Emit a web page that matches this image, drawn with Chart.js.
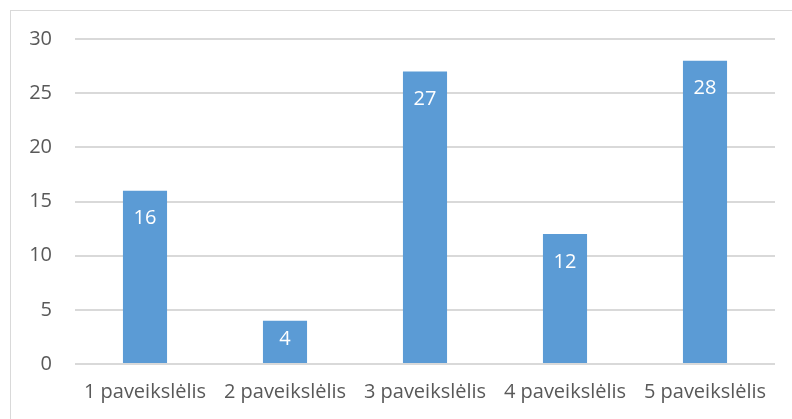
<!DOCTYPE html>
<html>
<head>
<meta charset="utf-8">
<script src="https://cdn.jsdelivr.net/npm/chart.js@4/dist/chart.umd.min.js"></script>
<style>
  html, body { margin: 0; padding: 0; background: #fff; overflow: hidden; }
  #wrap { position: relative; width: 792px; height: 419px; }
  #frame { position: absolute; left: 10px; top: 10px; width: 900px; height: 500px; border: 1px solid #d9d9d9; box-sizing: border-box; }
  canvas { position: absolute; left: 0; top: 0; }
</style>
</head>
<body>
<div id="wrap">
  <div id="frame"></div>
  <canvas id="grafico" width="792" height="419"></canvas>
</div>
<script>
// Kategorijos ir reikšmės
const kategorijos = ["1 paveikslėlis", "2 paveikslėlis", "3 paveikslėlis", "4 paveikslėlis", "5 paveikslėlis"];
const reiksmes = [16, 4, 27, 12, 28];
const yTicks = [0, 5, 10, 15, 20, 25, 30];

const fontas = "'Open Sans', Lato, sans-serif";

// reikšmių užrašai stulpelių viršuje (inside end)
const reiksmiuUzrasai = {
  id: 'reiksmiuUzrasai',
  afterDatasetsDraw(chart) {
    const ctx = chart.ctx;
    const meta = chart.getDatasetMeta(0);
    ctx.save();
    ctx.fillStyle = '#ffffff';
    ctx.font = '20px ' + fontas;
    ctx.textAlign = 'center';
    ctx.textBaseline = 'middle';
    meta.data.forEach((bar, i) => {
      const h = bar.base - bar.y;
      const off = Math.min(28, h / 2 - 3);
      ctx.fillText(String(chart.data.datasets[0].data[i]), bar.x, bar.y + off);
    });
    ctx.restore();
  }
};

new Chart(document.getElementById("grafico"), {
  type: 'bar',
  data: {
    labels: kategorijos,
    datasets: [{
      data: reiksmes,
      backgroundColor: '#5b9bd5',
      borderWidth: 0,
      barPercentage: 0.63,
      categoryPercentage: 0.5
    }]
  },
  options: {
    responsive: false,
    animation: false,
    events: [],
    layout: { padding: { left: 0, right: 17, top: 39, bottom: 0 } },
    plugins: {
      legend: { display: false },
      tooltip: { enabled: false }
    },
    scales: {
      x: {
        grid: { display: false, drawTicks: false },
        border: { display: false },
        ticks: { color: '#595959', font: { family: fontas, size: 20 }, padding: 16, maxRotation: 0, autoSkip: false },
        afterFit(scale) { scale.height = 55; }
      },
      y: {
        min: 0,
        max: 30,
        afterBuildTicks(scale) { scale.ticks = yTicks.map(v => ({ value: v })); },
        grid: { color: '#d9d9d9', lineWidth: 2, drawTicks: false },
        border: { display: false },
        ticks: { color: '#595959', font: { family: fontas, size: 20 }, padding: 23 },
        afterFit(scale) { scale.width = 75; }
      }
    }
  },
  plugins: [reiksmiuUzrasai]
});
</script>
</body>
</html>
